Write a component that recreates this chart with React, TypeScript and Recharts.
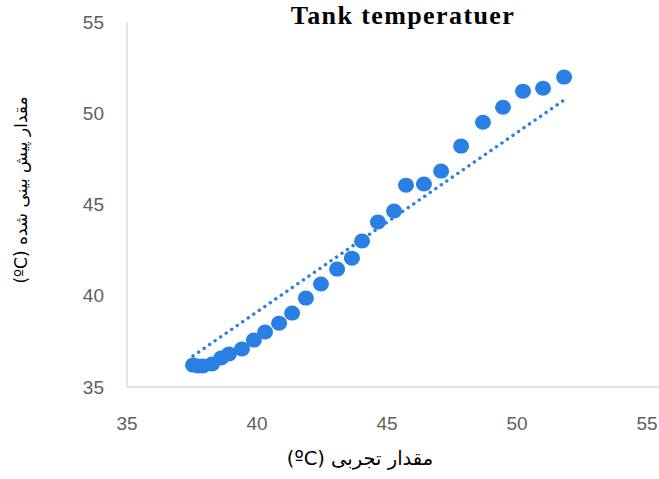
import React from 'react';
import { ScatterChart, Scatter, XAxis, YAxis } from 'recharts';

const measuredX = [37.54, 37.73, 37.92, 38.27, 38.62, 38.92, 39.42, 39.88, 40.31, 40.85, 41.35, 41.88, 42.46, 43.08, 43.65, 44.04, 44.65, 45.27, 45.73, 46.42, 47.08, 47.85, 48.69, 49.46, 50.23, 51.0, 51.81];
const predictedY = [36.2, 36.15, 36.15, 36.26, 36.59, 36.81, 37.08, 37.57, 38.01, 38.5, 39.05, 39.87, 40.64, 41.46, 42.06, 43.0, 44.04, 44.64, 46.06, 46.12, 46.83, 48.2, 49.51, 50.33, 51.21, 51.37, 51.98];
const trendX = [37.54, 51.81];
const trendY = [36.7, 50.72];
const tickValues = [35, 40, 45, 50, 55];

const points = measuredX.map((x, i) => ({ x, y: predictedY[i] }));
const trend = trendX.map((x, i) => ({ x, y: trendY[i] }));

const BLUE = '#2A7FE2';
const tickStyle = { fill: '#5f5f5f', fontSize: 19, fontFamily: '"Liberation Sans", Arial, sans-serif' };

export default function App() {
  return (
    <div style={{ position: 'absolute', left: 0, top: 0, width: 659, height: 479, background: '#fff', fontFamily: '"Liberation Serif", serif' }}>
      <ScatterChart width={659} height={479} margin={{ top: 22, right: 0, bottom: 0, left: 0 }}>
        <XAxis
          type="number"
          dataKey="x"
          domain={[35, 55.46]}
          ticks={tickValues}
          allowDataOverflow
          axisLine={{ stroke: '#D9D9D9', strokeWidth: 1.3 }}
          tickLine={false}
          tickMargin={24}
          height={92}
          tick={tickStyle}
          interval={0}
        />
        <YAxis
          type="number"
          dataKey="y"
          domain={[35, 55]}
          ticks={tickValues}
          axisLine={{ stroke: '#D9D9D9', strokeWidth: 1.3 }}
          tickLine={false}
          tickMargin={17}
          width={127}
          tick={tickStyle}
          interval={0}
        />
        <Scatter
          data={trend}
          line={{ stroke: BLUE, strokeWidth: 3.4, strokeDasharray: '0.1 6.6', strokeLinecap: 'round' }}
          shape={() => <g />}
          isAnimationActive={false}
        />
        <Scatter
          data={points}
          fill={BLUE}
          isAnimationActive={false}
          shape={(p: any) => <ellipse cx={p.cx} cy={p.cy} rx={8} ry={7.5} fill={BLUE} />}
        />
      </ScatterChart>
      <div style={{ position: 'absolute', left: 0, width: 806, top: 1, textAlign: 'center', fontFamily: '"Liberation Serif", "Times New Roman", serif', fontWeight: 'bold', fontSize: 26, color: '#000', letterSpacing: 1.4 }}>
        Tank temperatuer
      </div>
      <div dir="rtl" style={{ position: 'absolute', left: 0, width: 720, top: 447, textAlign: 'center', fontFamily: '"DejaVu Sans", sans-serif', fontSize: 19.5, color: '#000' }}>
        مقدار تجربی (ºC)
      </div>
      <div dir="rtl" style={{ position: 'absolute', left: 21 - 150, top: 190 - 12, width: 300, height: 24, textAlign: 'center', transform: 'rotate(-90deg)', fontFamily: '"DejaVu Sans", sans-serif', fontSize: 17, color: '#000', lineHeight: '24px' }}>
        مقدار پیش بینی شده (ºC)
      </div>
    </div>
  );
}
